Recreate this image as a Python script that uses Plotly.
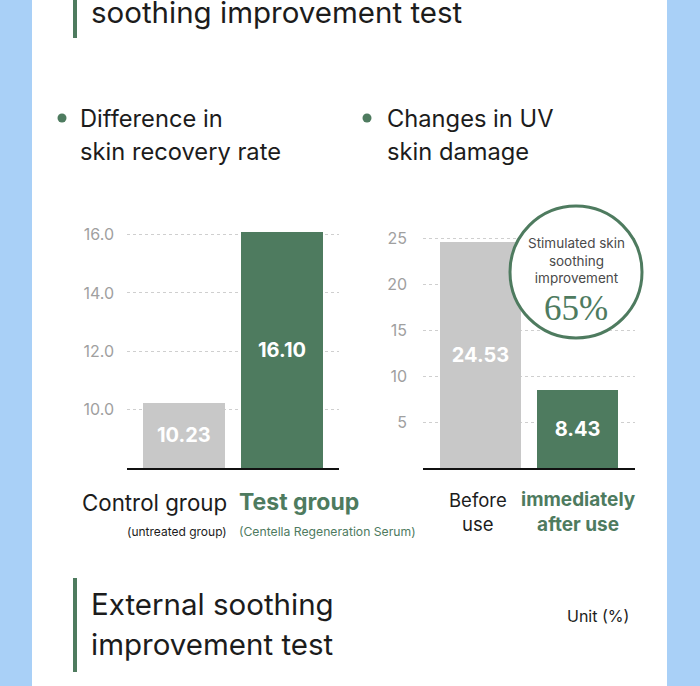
import plotly.graph_objects as go
from plotly.subplots import make_subplots

# ---- data ----
recovery_categories = ["Control group", "Test group"]
recovery_values = [10.23, 16.10]
recovery_ticks = [10.0, 12.0, 14.0, 16.0]
recovery_floor = 8.0

uv_categories = ["Before use", "immediately after use"]
uv_values = [24.53, 8.43]
uv_ticks = [5, 10, 15, 20, 25]

improvement_pct = 65

# ---- style ----
W, H = 700, 686
GREEN = "#4e7b5f"
GRAY = "#c8c8c8"
BLUE = "#a9d0f7"
TEXT = "#1c1c1c"
TICK = "#a0a0a0"
FONT = "Inter"


def px(x):
    return x / W


def py(y):
    return 1 - y / H


fig = make_subplots(rows=1, cols=2)

fig.add_trace(go.Bar(
    x=recovery_categories, y=recovery_values,
    marker=dict(color=[GRAY, GREEN], line=dict(width=0)),
    width=0.83,
    hoverinfo="skip", showlegend=False,
), row=1, col=1)

# value labels centred in the visible part of each bar (axis starts at recovery_floor)
for cat, v in zip(recovery_categories, recovery_values):
    fig.add_annotation(x=cat, y=(v + recovery_floor) / 2, xref="x", yref="y",
                       text=f"{v:.2f}", showarrow=False, xanchor="center", yanchor="middle",
                       font=dict(color="white", size=20, family=FONT, weight="bold"))

fig.add_trace(go.Bar(
    x=uv_categories, y=uv_values,
    marker=dict(color=[GRAY, GREEN], line=dict(width=0)),
    width=0.835,
    text=[f"{v:.2f}" for v in uv_values],
    textposition="inside", insidetextanchor="middle",
    textangle=0, constraintext="none",
    textfont=dict(color="white", size=20, family=FONT, weight="bold"),
    hoverinfo="skip", showlegend=False,
), row=1, col=2)

ydom = [py(468), py(215)]
fig.update_layout(
    width=W, height=H,
    margin=dict(l=0, r=0, t=0, b=0),
    paper_bgcolor=BLUE, plot_bgcolor="white",
    font=dict(family=FONT, color=TEXT),
    bargap=0,
    xaxis=dict(domain=[px(127), px(339)], range=[-0.577, 1.577],
               showticklabels=False, ticks="", showgrid=False, zeroline=False,
               showline=True, linecolor="#111", linewidth=2),
    yaxis=dict(domain=ydom, range=[recovery_floor, 16.67], tickvals=recovery_ticks,
               ticktext=[f"{t:.1f}" for t in recovery_ticks],
               tickfont=dict(size=16, color=TICK, family=FONT),
               ticklabelstandoff=12, ticks="",
               showgrid=True, gridcolor="#cfcfcf", gridwidth=1, griddash="dot",
               zeroline=False, showline=False),
    xaxis2=dict(domain=[px(423), px(635)], range=[-0.593, 1.593],
                showticklabels=False, ticks="", showgrid=False, zeroline=False,
                showline=True, linecolor="#111", linewidth=2),
    yaxis2=dict(domain=ydom, range=[0, 27.5], tickvals=uv_ticks,
                tickfont=dict(size=16, color=TICK, family=FONT),
                ticklabelstandoff=15, ticks="",
                showgrid=True, gridcolor="#cfcfcf", gridwidth=1, griddash="dot",
                zeroline=False, showline=False),
)

shapes = [
    # white panel
    dict(type="rect", xref="paper", yref="paper", x0=px(32), x1=px(667), y0=0, y1=1,
         fillcolor="white", line=dict(width=0), layer="below"),
    # green accent bars
    dict(type="rect", xref="paper", yref="paper", x0=px(73), x1=px(77), y0=py(38), y1=1,
         fillcolor=GREEN, line=dict(width=0), layer="above"),
    dict(type="rect", xref="paper", yref="paper", x0=px(73), x1=px(77), y0=py(672), y1=py(578),
         fillcolor=GREEN, line=dict(width=0), layer="above"),
    # bullets
    dict(type="circle", xref="paper", yref="paper", x0=px(57.5), x1=px(66.5), y0=py(122.5), y1=py(113.5),
         fillcolor=GREEN, line=dict(width=0), layer="above"),
    dict(type="circle", xref="paper", yref="paper", x0=px(362.5), x1=px(371.5), y0=py(122.5), y1=py(113.5),
         fillcolor=GREEN, line=dict(width=0), layer="above"),
    # callout circle
    dict(type="circle", xref="paper", yref="paper", x0=px(510), x1=px(642), y0=py(338), y1=py(206),
         fillcolor="white", line=dict(color=GREEN, width=3), layer="above"),
]
fig.update_layout(shapes=shapes)


def ann(text, x, y, size, color=TEXT, xanchor="left", weight="normal", family=FONT, align="left",
        yanchor="middle"):
    fig.add_annotation(text=text, x=px(x), y=py(y), xref="paper", yref="paper",
                       xanchor=xanchor, yanchor=yanchor, showarrow=False, align=align,
                       borderpad=0,
                       font=dict(size=size, color=color, family=family, weight=weight))


# headings
ann("soothing improvement test", 90, 12, 29.5)
ann("Difference in", 79, 118, 23.7)
ann("skin recovery rate", 79, 151, 23.7)
ann("Changes in UV", 386, 118, 23.7)
ann("skin damage", 386, 151, 23.7)

# category labels chart 1
ann("Control group", 228, 502, 22.3, xanchor="right")
ann("(untreated group)", 228, 531, 12, xanchor="right")
ann("Test group", 238, 502, 23, color=GREEN, weight="bold")
ann("(Centella Regeneration Serum)", 238, 531, 12.2, color=GREEN)

# category labels chart 2
ann("Before<br>use", 478, 512, 18.5, xanchor="center", align="center")
ann("immediately<br>after use", 578, 512, 19, color=GREEN, xanchor="center", weight="bold", align="center")

# callout
ann("Stimulated skin<br>soothing<br>improvement", 576, 260, 13.5, color="#4a4a4a", xanchor="center", align="center")
ann(f"{improvement_pct}%", 576, 308, 35, color=GREEN, xanchor="center", family="Liberation Serif")

# bottom section
ann("External soothing", 90, 604, 29.5)
ann("improvement test", 90, 644, 29.5)
ann("Unit (%)", 630, 616, 16, xanchor="right")

fig.write_html("out.html", config={"displayModeBar": False},
               post_script="document.body.style.margin='0';document.body.style.overflow='hidden';")
